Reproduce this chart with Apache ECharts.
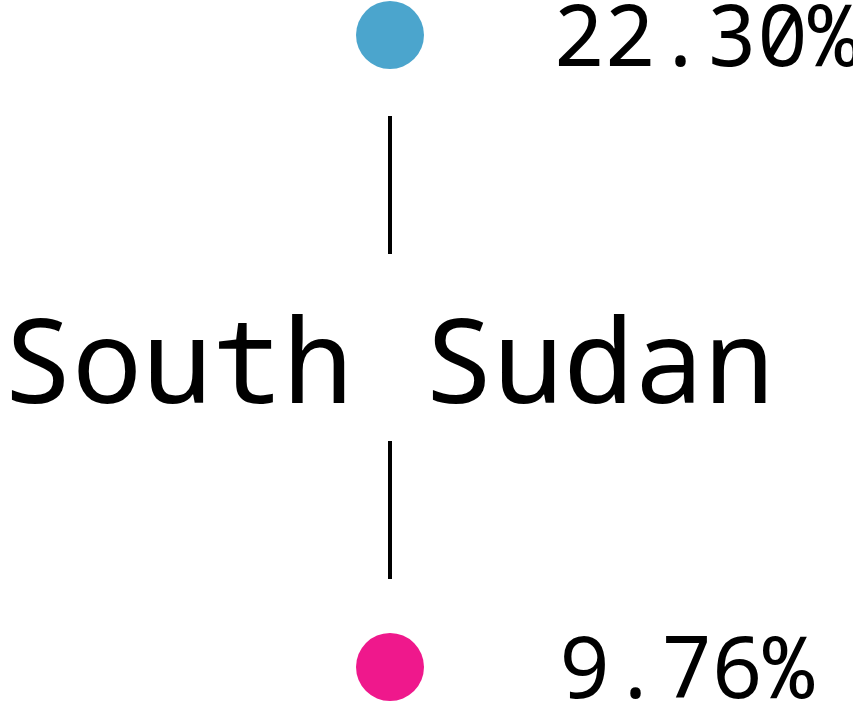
<!DOCTYPE html>
<html>
<head>
<meta charset="utf-8">
<script src="https://cdn.jsdelivr.net/npm/echarts@6/dist/echarts.min.js"></script>
<style>
html,body{margin:0;padding:0;background:#fff;}
#chart{width:853px;height:718px;}
</style>
</head>
<body>
<div id="chart"></div>
<script>
// Data
var countries = ['South Sudan'];
var groups = ['Top', 'Bottom'];
var topValues = [22.30];
var bottomValues = [9.76];
var topColor = '#4BA5CD';
var bottomColor = '#EF188C';
var FONT = "'Noto Sans Mono', 'Liberation Mono', monospace";

var chart = echarts.init(document.getElementById('chart'), null, {renderer: 'canvas'});

function fmt(v) { return v.toFixed(2) + '%'; }

var option = {
  backgroundColor: '#ffffff',
  animation: false,
  grid: {left: 290, width: 200, top: 35, bottom: 51},
  xAxis: {type: 'category', data: countries, show: false},
  yAxis: {type: 'category', data: groups, inverse: true, boundaryGap: false, show: false},
  series: [
    {
      type: 'custom',
      data: countries.map(function (c, i) { return [i]; }),
      renderItem: function (params, api) {
        var xi = api.value(0);
        var pTop = api.coord([xi, 0]);
        var pBot = api.coord([xi, 1]);
        var x = pTop[0];
        var mid = (pTop[1] + pBot[1]) / 2;
        var lineStyle = {stroke: '#000', lineWidth: 4};
        return {
          type: 'group',
          children: [
            {type: 'line', shape: {x1: x, y1: pTop[1] + 81, x2: x, y2: pTop[1] + 219}, style: lineStyle},
            {type: 'line', shape: {x1: x, y1: pBot[1] - 226, x2: x, y2: pBot[1] - 88}, style: lineStyle},
            {type: 'text', x: x - 2, y: mid + 19, style: {
              text: countries[params.dataIndex], fill: '#000',
              font: '117px ' + FONT, align: 'center', verticalAlign: 'middle'
            }}
          ]
        };
      },
      z: 1
    },
    {
      type: 'scatter',
      name: 'Top',
      data: topValues.map(function (v, i) { return [i, 0, v]; }),
      symbol: 'circle',
      symbolSize: 68,
      itemStyle: {color: topColor, opacity: 1},
      label: {
        show: true, position: 'right', distance: 129, offset: [0, 7],
        formatter: function (p) { return fmt(p.value[2]); },
        color: '#000', fontFamily: FONT, fontSize: 85
      },
      z: 2
    },
    {
      type: 'scatter',
      name: 'Bottom',
      data: bottomValues.map(function (v, i) { return [i, 1, v]; }),
      symbol: 'circle',
      symbolSize: 68,
      itemStyle: {color: bottomColor, opacity: 1},
      label: {
        show: true, position: 'right', distance: 135, offset: [0, 7],
        formatter: function (p) { return fmt(p.value[2]); },
        color: '#000', fontFamily: FONT, fontSize: 85
      },
      z: 2
    }
  ]
};
chart.setOption(option);
</script>
</body>
</html>
